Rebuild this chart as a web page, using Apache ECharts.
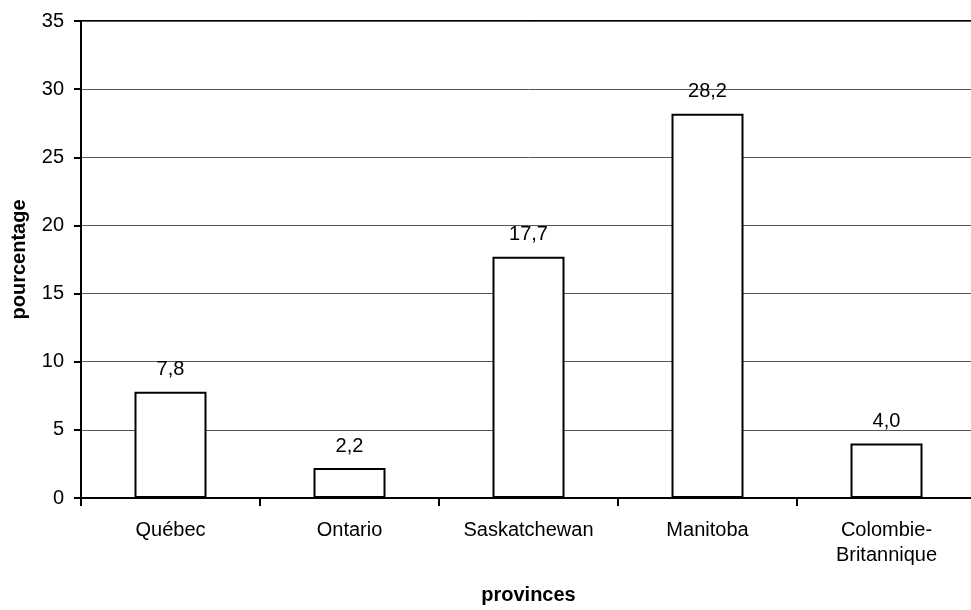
<!DOCTYPE html>
<html lang="fr">
<head>
<meta charset="UTF-8">
<title>pourcentage par province</title>
<script src="https://cdn.jsdelivr.net/npm/echarts@6/dist/echarts.min.js"></script>
<style>
    html, body { margin: 0; padding: 0; background: #fff; overflow: hidden; }
    /* the plot runs past the right edge of the window, as in the original */
    #container { width: 990px; height: 610px; }
</style>
</head>
<body>
<div id="container"></div>
<script type="text/javascript">
    // provinces
    var provinces = ['Québec', 'Ontario', 'Saskatchewan', 'Manitoba', 'Colombie-\nBritannique'];
    // pourcentage
    var pourcentage = [7.8, 2.2, 17.7, 28.2, 4.0];
    var yMin = 0, yMax = 35, yStep = 5;

    var font = '"Liberation Sans", Arial, sans-serif';
    var myChart = echarts.init(document.getElementById('container'), null, { renderer: 'canvas' });

    var option = {
        animation: false,
        grid: {
            left: 81,
            width: 895,
            top: 21,
            height: 480,
            show: true,
            borderColor: '#000',
            borderWidth: 2,
            containLabel: false
        },
        xAxis: {
            type: 'category',
            data: provinces,
            name: 'provinces',
            nameLocation: 'middle',
            nameGap: 87,
            nameTextStyle: { fontFamily: font, fontSize: 20, fontWeight: 'bold', color: '#000' },
            axisLine: { lineStyle: { color: '#000', width: 2 } },
            axisTick: { show: true, length: 8, lineStyle: { color: '#000', width: 2 } },
            axisLabel: { margin: 20, fontFamily: font, fontSize: 20, color: '#000', lineHeight: 25, interval: 0 }
        },
        yAxis: {
            type: 'value',
            min: yMin,
            max: yMax,
            interval: yStep,
            name: 'pourcentage',
            nameLocation: 'middle',
            nameGap: 52,
            nameTextStyle: { fontFamily: font, fontSize: 20, fontWeight: 'bold', color: '#000' },
            axisLine: { show: true, lineStyle: { color: '#000', width: 2 } },
            axisTick: { show: true, length: 7, lineStyle: { color: '#000', width: 2 } },
            axisLabel: { margin: 17, fontFamily: font, fontSize: 20, color: '#000' },
            splitLine: { show: true, lineStyle: { color: '#555', width: 1 } }
        },
        series: [
            {
                type: 'bar',
                data: pourcentage,
                barWidth: 72,
                itemStyle: { color: '#fff', borderColor: '#000', borderWidth: 2 },
                label: {
                    show: true,
                    position: 'top',
                    distance: 12,
                    fontFamily: font,
                    fontSize: 20,
                    color: '#000',
                    formatter: function (p) { return p.value.toFixed(1).replace('.', ','); }
                }
            }
        ]
    };
    myChart.setOption(option);
</script>
</body>
</html>
